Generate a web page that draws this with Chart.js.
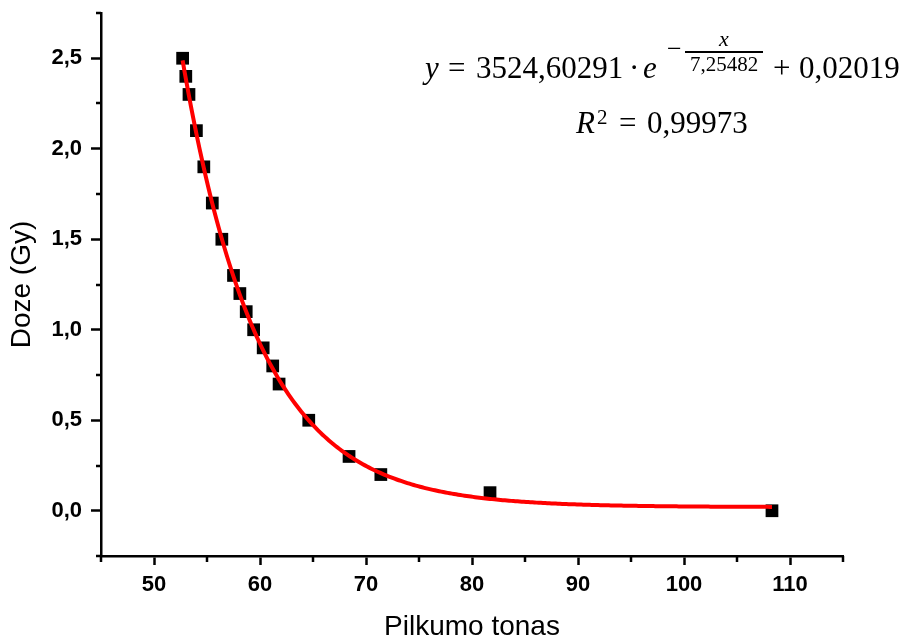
<!DOCTYPE html>
<html>
<head>
<meta charset="utf-8">
<script src="https://cdn.jsdelivr.net/npm/chart.js@4.4.1/dist/chart.umd.min.js"></script>
<style>
  html, body { margin: 0; background: #fff; }
  canvas { display: block; }
</style>
</head>
<body>
<canvas id="chart" width="904" height="641"></canvas>
<script>
// measured points: grey tone vs dose
const pilkumas = [52.7, 53.0, 53.3, 54.0, 54.7, 55.5, 56.4, 57.5, 58.1, 58.7, 59.4, 60.3, 61.2, 61.8, 64.6, 68.4, 71.4, 81.7, 108.3];
const doze = [2.5, 2.4, 2.3, 2.1, 1.9, 1.7, 1.5, 1.3, 1.2, 1.1, 1.0, 0.9, 0.8, 0.7, 0.5, 0.3, 0.2, 0.1, 0.0];

const xTicks = [50, 60, 70, 80, 90, 100, 110];
const xMinorTicks = [45, 55, 65, 75, 85, 95, 105, 115];
const yTicks = [0, 0.5, 1, 1.5, 2, 2.5];
const yTickLabels = ['0,0', '0,5', '1,0', '1,5', '2,0', '2,5'];
const yMinorTicks = [-0.25, 0.25, 0.75, 1.25, 1.75, 2.25, 2.75];

// exponential decay fit: y = A * exp(-x / t) + y0
const fitA = 3524.60291;
const fitT = 7.25482;
const fitY0 = 0.02019;
const fitR2 = 0.99973;

const comma = v => String(v).replace('.', ',');

const xFrom = Math.min(...pilkumas);
const xTo = Math.max(...pilkumas);
const fitCurve = [];
for (let x = xFrom; x <= xTo + 1e-9; x += 0.2) {
  fitCurve.push({ x: x, y: fitA * Math.exp(-x / fitT) + fitY0 });
}

const sans = '"Liberation Sans", Arial, sans-serif';

// short ticks between the labelled ones
const minorTicks = {
  id: 'minorTicks',
  afterDraw(chart) {
    const { ctx, chartArea, scales: { x, y } } = chart;
    ctx.save();
    ctx.strokeStyle = '#000';
    ctx.lineWidth = 2.5;
    ctx.beginPath();
    xMinorTicks.forEach(v => {
      const px = Math.round(x.getPixelForValue(v));
      ctx.moveTo(px, chartArea.bottom);
      ctx.lineTo(px, chartArea.bottom + 6);
    });
    yMinorTicks.forEach(v => {
      const py = Math.round(y.getPixelForValue(v));
      ctx.moveTo(chartArea.left, py);
      ctx.lineTo(chartArea.left - 5, py);
    });
    ctx.stroke();
    ctx.restore();
  }
};

// fit equation and R² in the upper right
const fitLabel = {
  id: 'fitLabel',
  afterDraw(chart) {
    const ctx = chart.ctx;
    const serif = '"Liberation Serif", "DejaVu Serif", serif';
    const reg = s => s + 'px ' + serif;
    const ital = s => 'italic ' + s + 'px ' + serif;
    const put = (text, font, x, y) => {
      ctx.font = font;
      ctx.fillText(text, x, y);
      return ctx.measureText(text).width;
    };
    ctx.save();
    ctx.fillStyle = '#000';
    ctx.textAlign = 'left';
    ctx.textBaseline = 'alphabetic';

    const base = 78;
    put('y', ital(31), 425, base);
    put('=', reg(31), 448, base);
    put(comma(fitA), reg(31), 476, base);
    put('·', reg(31), 629, base);
    put('e', ital(31), 643, base);
    put('−', reg(26), 667, base - 21);

    // exponent fraction x / t
    ctx.font = reg(21);
    const denW = ctx.measureText(comma(fitT)).width;
    const barX = 685;
    const barW = Math.max(78, denW + 4);
    ctx.fillRect(barX, base - 27, barW, 2);
    ctx.font = ital(22);
    const numW = ctx.measureText('x').width;
    put('x', ital(22), barX + (barW - numW) / 2, base - 32);
    put(comma(fitT), reg(21), barX + (barW - denW) / 2, base - 7);

    put('+', reg(31), 773, base);
    put(comma(fitY0), reg(31), 799, base);

    const base2 = 133;
    const rW = put('R', ital(31), 576, base2);
    put('2', reg(21), 576 + rW + 2, base2 - 9);
    put('=', reg(31), 619, base2);
    put(comma(fitR2), reg(31), 647, base2);
    ctx.restore();
  }
};

new Chart(document.getElementById('chart'), {
  type: 'scatter',
  data: {
    datasets: [
      {
        label: 'fit',
        type: 'line',
        data: fitCurve,
        borderColor: '#ff0000',
        borderWidth: 4,
        pointRadius: 0,
        fill: false,
        tension: 0,
        order: 0
      },
      {
        label: 'Doze',
        data: pilkumas.map((x, i) => ({ x: x, y: doze[i] })),
        pointStyle: 'rect',
        pointRadius: 9,
        pointHoverRadius: 9,
        backgroundColor: '#000',
        borderColor: '#000',
        borderWidth: 0,
        order: 1
      }
    ]
  },
  options: {
    responsive: false,
    animation: false,
    layout: { padding: { top: 13, right: 61, left: 0, bottom: 0 } },
    plugins: {
      legend: { display: false },
      tooltip: { enabled: false }
    },
    scales: {
      x: {
        type: 'linear',
        position: 'bottom',
        min: 45,
        max: 115,
        afterBuildTicks: s => { s.ticks = xTicks.map(v => ({ value: v })); },
        afterFit: s => { s.height = 85; s.paddingLeft = 0; s.paddingRight = 0; },
        ticks: {
          color: '#000',
          padding: 7,
          maxRotation: 0,
          autoSkip: false,
          font: { family: sans, size: 22, weight: 'bold' }
        },
        grid: { drawOnChartArea: false, drawTicks: true, tickLength: 9, tickWidth: 2.5, tickColor: '#000' },
        border: { display: true, color: '#000', width: 2.5 },
        title: {
          display: true,
          text: 'Pilkumo tonas',
          color: '#000',
          font: { family: sans, size: 28, lineHeight: 1 },
          padding: { top: 0, bottom: 0 }
        }
      },
      y: {
        type: 'linear',
        min: -0.25,
        max: 2.75,
        afterBuildTicks: s => { s.ticks = yTicks.map(v => ({ value: v })); },
        afterFit: s => { s.width = 101; s.paddingTop = 0; s.paddingBottom = 0; },
        ticks: {
          color: '#000',
          padding: 9,
          autoSkip: false,
          callback: (v) => yTickLabels[yTicks.indexOf(v)],
          font: { family: sans, size: 22, weight: 'bold' }
        },
        grid: { drawOnChartArea: false, drawTicks: true, tickLength: 10, tickWidth: 2.5, tickColor: '#000' },
        border: { display: true, color: '#000', width: 2.5 },
        title: {
          display: true,
          text: 'Doze (Gy)',
          color: '#000',
          font: { family: sans, size: 28, lineHeight: 1 },
          padding: { top: 8, bottom: 0 }
        }
      }
    }
  },
  plugins: [minorTicks, fitLabel]
});
</script>
</body>
</html>
